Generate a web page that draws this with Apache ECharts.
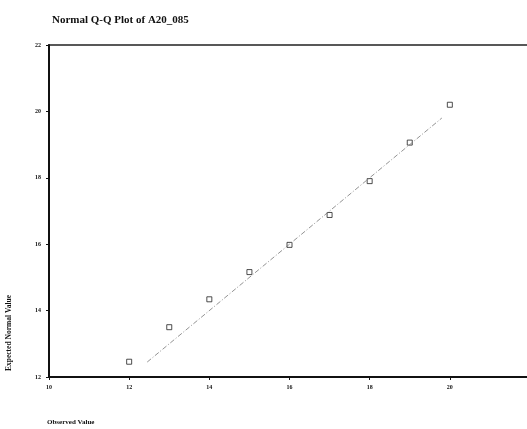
<!DOCTYPE html>
<html><head><meta charset="utf-8">
<script src="https://cdn.jsdelivr.net/npm/echarts@6/dist/echarts.min.js"></script>
<style>html,body{margin:0;padding:0;background:#fff}#c{width:527px;height:429px}</style>
</head><body><div id="c"></div>
<script>
var observed = [12, 13, 14, 15, 16, 17, 18, 19, 20];
var expected = [12.46, 13.50, 14.34, 15.16, 15.98, 16.88, 17.90, 19.06, 20.20];
var refLineX = [12.45, 19.8];
var refLineY = [12.45, 19.8];
var titleText = 'Normal Q-Q Plot of A20_085';
var xName = 'Observed Value';
var yName = 'Expected Normal Value';

var chart = echarts.init(document.getElementById('c'), null, {renderer: 'canvas'});
var lab = {fontFamily: 'Liberation Serif', fontWeight: 'bold', fontSize: 6, color: '#111'};
chart.setOption({
  backgroundColor: '#fff',
  animation: false,
  title: {text: titleText, left: 47, top: 10,
    textStyle: {fontFamily: 'Liberation Serif', fontWeight: 'bold', fontSize: 11, color: '#111'}},
  grid: {left: 49, right: -3, top: 45, bottom: 52, show: true, borderColor: '#222', borderWidth: 1.5,
    backgroundColor: 'transparent', containLabel: false, outerBoundsMode: 'none'},
  xAxis: {type: 'value', min: 10, max: 22, interval: 2,
    axisLine: {lineStyle: {color: '#111', width: 2}},
    axisTick: {show: true, length: 3, lineStyle: {color: '#111', width: 1}},
    axisLabel: Object.assign({margin: 7, hideOverlap: false}, lab),
    splitLine: {show: false}},
  yAxis: {type: 'value', min: 12, max: 22, interval: 2,
    axisLine: {show: true, lineStyle: {color: '#111', width: 2}},
    axisTick: {show: true, length: 3, lineStyle: {color: '#111', width: 1}},
    axisLabel: Object.assign({margin: 8}, lab),
    splitLine: {show: false}},
  graphic: [
    {type: 'text', left: 47, top: 419, style: {text: xName, font: 'bold 7px "Liberation Serif"', fill: '#111'}},
    {type: 'text', x: 9, y: 333, rotation: Math.PI / 2, style: {text: yName, font: 'bold 7.5px "Liberation Serif"', fill: '#111', align: 'center', verticalAlign: 'middle'}}
  ],
  series: [
    {type: 'line', data: refLineX.map(function (v, i) { return [v, refLineY[i]]; }),
      symbol: 'none', lineStyle: {color: '#777', width: 0.8, type: [5, 2, 1, 2]}},
    {type: 'scatter', data: observed.map(function (v, i) { return [v, expected[i]]; }),
      symbol: 'rect', symbolSize: 5,
      itemStyle: {color: '#fff', borderColor: '#222', borderWidth: 1}}
  ]
});
</script></body></html>
